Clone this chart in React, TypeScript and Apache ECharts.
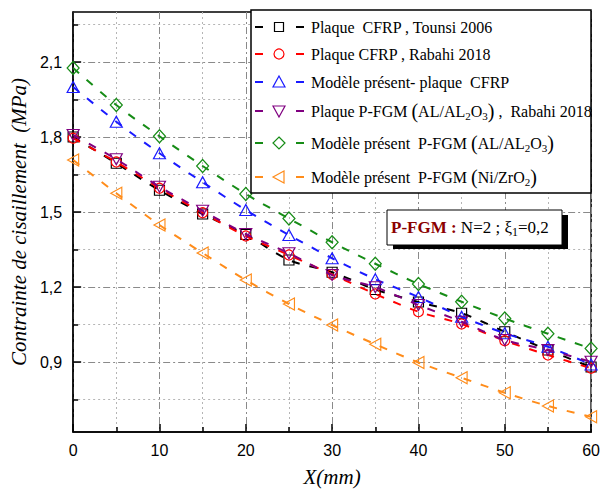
import React, { useEffect, useRef } from 'react';
import * as echarts from 'echarts';

const xValues = [0, 5, 10, 15, 20, 25, 30, 35, 40, 45, 50, 55, 60];
const tounsiCFRP = [1.8, 1.695, 1.587, 1.492, 1.41, 1.308, 1.259, 1.19, 1.14, 1.095, 1.021, 0.948, 0.88];
const rabahiCFRP = [1.795, 1.7, 1.595, 1.497, 1.404, 1.328, 1.25, 1.172, 1.101, 1.052, 0.985, 0.928, 0.875];
const modelCFRP = [2.0, 1.861, 1.735, 1.619, 1.508, 1.408, 1.315, 1.231, 1.16, 1.081, 1.015, 0.961, 0.89];
const rabahiPFGM = [1.808, 1.711, 1.601, 1.505, 1.412, 1.335, 1.248, 1.199, 1.128, 1.061, 0.988, 0.948, 0.901];
const modelPFGMAl = [2.076, 1.928, 1.803, 1.684, 1.572, 1.474, 1.379, 1.293, 1.212, 1.141, 1.074, 1.013, 0.954];
const modelPFGMNi = [1.708, 1.575, 1.448, 1.336, 1.228, 1.132, 1.048, 0.971, 0.898, 0.837, 0.777, 0.724, 0.681];

const yTickLabels = [0.9, 1.2, 1.5, 1.8, 2.1];
const yMinorTicks = [0.75, 1.05, 1.35, 1.65, 1.95, 2.25];

const seriesNames = [
  'Plaque  CFRP , Tounsi 2006',
  'Plaque CFRP , Rabahi 2018',
  'Modèle présent- plaque  CFRP',
  'Plaque P-FGM (AL/AL2O3) ,  Rabahi 2018',
  'Modèle présent  P-FGM (AL/AL2O3)',
  'Modèle présent  P-FGM (Ni/ZrO2)',
];
const legendLabels = [
  '{t|Plaque  CFRP , Tounsi 2006}',
  '{t|Plaque CFRP , Rabahi 2018}',
  '{t|Modèle présent- plaque  CFRP}',
  '{t|Plaque P-FGM }{p|(}{t|AL/AL}{s|2}{t|O}{s|3}{p|)}{t| ,  Rabahi 2018}',
  '{t|Modèle présent  P-FGM }{p|(}{t|AL/AL}{s|2}{t|O}{s|3}{p|)}',
  '{t|Modèle présent  P-FGM }{p|(}{t|Ni/ZrO}{s|2}{p|)}',
];
const annotationText = '{b|P-FGM :}{t| N=2 ; ξ}{s|1}{t|=0,2}';
const xAxisTitle = 'X(mm)';
const yAxisTitle = 'Contrainte de cisaillement  (MPa)';

const seriesValues = [tounsiCFRP, rabahiCFRP, modelCFRP, rabahiPFGM, modelPFGMAl, modelPFGMNi];
const colors = ['#000000', '#ff0000', '#1a1aff', '#800080', '#168c16', '#ff8c1a'];
const symbols = ['rect', 'circle', 'triangle', 'triangle', 'diamond', 'triangle'];
const symbolRotates = [0, 0, 0, 180, 0, 90];
const symbolSizes: any[] = [[10, 10], 10, [12, 11], [12, 11], [12, 13], [12, 11]];

const SERIF = 'Liberation Serif';
const SANS = 'Liberation Sans';

function legendSymbol(kind: number, cx: number, cy: number, color: string) {
  const style = { fill: 'none', stroke: color, lineWidth: 1.2 };
  switch (kind) {
    case 0:
      return { type: 'rect', z: 101, shape: { x: cx - 4.5, y: cy - 4.5, width: 9, height: 9 }, style };
    case 1:
      return { type: 'circle', z: 101, shape: { cx, cy, r: 5 }, style };
    case 2:
      return { type: 'polygon', z: 101, shape: { points: [[cx, cy - 6], [cx + 6, cy + 5], [cx - 6, cy + 5]] }, style };
    case 3:
      return { type: 'polygon', z: 101, shape: { points: [[cx - 6, cy - 5], [cx + 6, cy - 5], [cx, cy + 6]] }, style };
    case 4:
      return { type: 'polygon', z: 101, shape: { points: [[cx, cy - 6], [cx + 6, cy], [cx, cy + 6], [cx - 6, cy]] }, style };
    default:
      return { type: 'polygon', z: 101, shape: { points: [[cx - 6, cy], [cx + 5, cy - 6], [cx + 5, cy + 6]] }, style };
  }
}

export default function App() {
  const ref = useRef<HTMLDivElement>(null);
  useEffect(() => {
    document.body.style.margin = '0';
    if (!ref.current) return;
    const chart = echarts.init(ref.current, undefined, { renderer: 'svg' });

    const series: any[] = seriesValues.map((vals, i) => ({
      name: seriesNames[i],
      type: 'line',
      data: xValues.map((x, j) => [x, vals[j]]),
      smooth: 0.3,
      symbol: symbols[i],
      symbolRotate: symbolRotates[i],
      symbolSize: symbolSizes[i],
      showAllSymbol: true,
      lineStyle: { color: colors[i], width: 2, type: [8, 10] },
      itemStyle: { color: 'rgba(255,255,255,0)', borderColor: colors[i], borderWidth: 1.2 },
      z: 3 + i,
    }));

    const rich = {
      t: { fontSize: 16, fontFamily: SERIF, fill: '#000', font: `16px "${SERIF}"` },
      s: { fontSize: 11, fontFamily: SERIF, fill: '#000', font: `11px "${SERIF}"`, padding: [10, 0, 0, 0] },
      p: { fontSize: 20, fontFamily: SERIF, fill: '#000', font: `20px "${SERIF}"` },
    };

    const rowsY = [27, 54, 82, 111, 143, 177];
    const legendGraphics: any[] = [
      {
        type: 'rect',
        z: 100,
        shape: { x: 251, y: 10, width: 340, height: 183 },
        style: { fill: '#ffffff', stroke: '#000000', lineWidth: 1.5 },
      },
    ];
    rowsY.forEach((y, i) => {
      legendGraphics.push({
        type: 'line', z: 101,
        shape: { x1: 255, y1: y, x2: 263, y2: y },
        style: { stroke: colors[i], lineWidth: 2 },
      });
      legendGraphics.push({
        type: 'line', z: 101,
        shape: { x1: 296, y1: y, x2: 304, y2: y },
        style: { stroke: colors[i], lineWidth: 2 },
      });
      legendGraphics.push(legendSymbol(i, 279, y, colors[i]));
      legendGraphics.push({
        type: 'text', z: 101,
        x: 311, y,
        style: {
          text: legendLabels[i],
          fill: '#000',
          font: `16px "${SERIF}"`,
          fontFamily: SERIF,
          fontSize: 16,
          align: 'left',
          verticalAlign: 'middle',
          rich,
        },
      });
    });

    const annotationGraphics: any[] = [
      { type: 'rect', z: 100, shape: { x: 393, y: 215, width: 175, height: 34 }, style: { fill: '#000' } },
      { type: 'rect', z: 101, shape: { x: 387, y: 210, width: 175, height: 35 }, style: { fill: '#fff', stroke: '#000', lineWidth: 1 } },
      {
        type: 'text', z: 102, x: 391, y: 227,
        style: {
          text: annotationText,
          fill: '#000',
          font: `17px "${SERIF}"`,
          fontFamily: SERIF,
          fontSize: 17,
          align: 'left',
          verticalAlign: 'middle',
          rich: {
            b: { fontSize: 17, fontFamily: SERIF, fontWeight: 'bold', fill: '#8b0000', font: `bold 17px "${SERIF}"` },
            t: { fontSize: 17, fontFamily: SERIF, fill: '#000', font: `17px "${SERIF}"` },
            s: { fontSize: 12, fontFamily: SERIF, fill: '#000', font: `12px "${SERIF}"`, padding: [10, 0, 0, 0] },
          },
        },
      },
    ];

    const axisLineStyle = { color: '#000', width: 1.5 };
    const majorGrid = { show: true, lineStyle: { color: '#8a8a8a', width: 1, type: [7, 3, 2, 3] } };
    const minorGrid = { show: true, lineStyle: { color: '#b5b5b5', width: 1, type: [2, 3] } };
    const titleStyle = { fontFamily: SERIF, fontStyle: 'italic', fontSize: 21, color: '#000' };

    chart.setOption({
      animation: false,
      backgroundColor: '#ffffff',
      grid: {
        left: 72, right: 10, top: 12, bottom: 61,
        show: true, borderColor: '#000', borderWidth: 1.5, backgroundColor: 'transparent',
      },
      xAxis: {
        type: 'value',
        min: 0, max: 60, interval: 10,
        name: xAxisTitle,
        nameLocation: 'middle',
        nameGap: 34,
        nameTextStyle: titleStyle,
        axisLine: { show: true, onZero: false, lineStyle: axisLineStyle },
        axisTick: { show: true, inside: true, length: 8, lineStyle: axisLineStyle },
        minorTick: { show: true, splitNumber: 2, length: 5, lineStyle: axisLineStyle },
        axisLabel: { fontFamily: SANS, fontSize: 16, color: '#000', margin: 10 },
        splitLine: majorGrid,
        minorSplitLine: minorGrid,
      },
      yAxis: [
        {
          type: 'value',
          min: 0.62, max: 2.3,
          position: 'left',
          name: yAxisTitle,
          nameLocation: 'middle',
          nameGap: 36,
          nameTextStyle: titleStyle,
          axisLine: { show: true, onZero: false, lineStyle: axisLineStyle },
          axisTick: { show: true, inside: true, length: 8, lineStyle: axisLineStyle, customValues: yTickLabels },
          axisLabel: {
            fontFamily: SANS, fontSize: 16, color: '#000', margin: 11,
            customValues: yTickLabels,
            formatter: (v: number) => v.toFixed(1).replace('.', ','),
          },
          splitLine: majorGrid,
        },
        {
          type: 'value',
          min: 0.62, max: 2.3,
          position: 'left',
          axisLine: { show: false },
          axisTick: { show: true, inside: true, length: 5, lineStyle: axisLineStyle, customValues: yMinorTicks },
          axisLabel: { show: false },
          splitLine: minorGrid,
        },
      ],
      series,
      graphic: [...legendGraphics, ...annotationGraphics],
    });

    return () => chart.dispose();
  }, []);
  return <div ref={ref} style={{ width: 603, height: 493 }} />;
}
